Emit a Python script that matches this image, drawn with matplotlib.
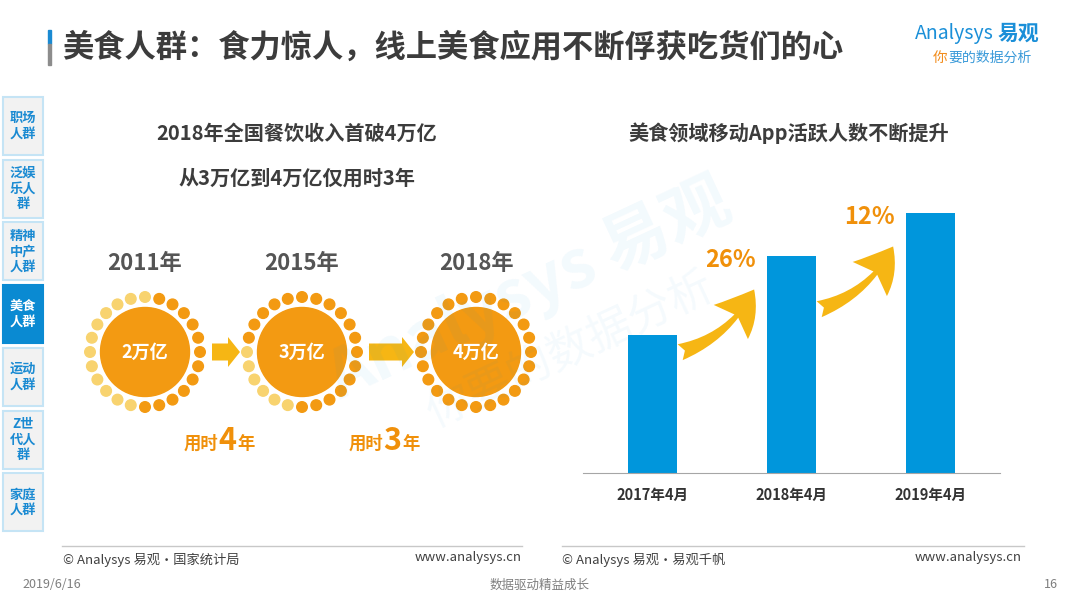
import matplotlib
matplotlib.use("Agg")
import matplotlib.pyplot as plt
import matplotlib.patches as mpatches
import numpy as np

plt.rcParams['font.family'] = ['Noto Sans CJK SC', 'DejaVu Sans']

# left panel: national catering revenue
sun_years = ['2011年', '2015年', '2018年']
sun_values = [2, 3, 4]  # 万亿
sun_labels = ['2万亿', '3万亿', '4万亿']
gap_years = ['4', '3']

# right panel: food app active users (no value axis in the source)
bar_months = ['2017年4月', '2018年4月', '2019年4月']
bar_values = [138, 217, 260]
growth_labels = ['26%', '12%']

side_tabs = ['职场\n人群', '泛娱\n乐人\n群', '精神\n中产\n人群', '美食\n人群',
             '运动\n人群', 'Z世\n代人\n群', '家庭\n人群']
active_tab = 3

BLUE = '#0096DC'
ORANGE = '#F39A12'
LIGHT = '#F8D36F'
YELLOW = '#F6B614'
PCT = '#F0900A'
DARK = '#3c3c3c'

fig = plt.figure(figsize=(10.8, 6.08), dpi=100)
bg = fig.add_axes([0, 0, 1, 1])
bg.set_xlim(0, 1080)
bg.set_ylim(608, 0)
bg.axis('off')

# watermark
bg.text(530, 290, 'Analysys 易观', fontsize=48, rotation=25, color=BLUE, alpha=0.05,
        ha='center', va='center', weight='bold')
bg.text(570, 350, '你要的数据分析', fontsize=32, rotation=25, color=BLUE, alpha=0.045,
        ha='center', va='center')

# page title
bg.add_patch(mpatches.Rectangle((48, 30), 3, 14, color='#1a8ad2'))
bg.add_patch(mpatches.Rectangle((48, 44), 3, 21, color='#8c8c8c'))
bg.text(62, 48, '美食人群：食力惊人，线上美食应用不断俘获吃货们的心', fontsize=22.5,
        weight='bold', color=DARK, va='center')

# logo
bg.text(915, 33, 'Analysys', fontsize=14, style='italic', color='#1a8fd8', va='center')
bg.text(998, 33, '易观', fontsize=15, weight='bold', color='#1a8fd8', va='center')
bg.text(933, 58, '你', fontsize=10.5, style='italic', color='#f28c1c', va='center')
bg.text(948, 58, '要的数据分析', fontsize=10, style='italic', color='#3a9ad9', va='center')

# side navigation
for i, lab in enumerate(side_tabs):
    top = 97 + i * 62.7
    on = i == active_tab
    bg.add_patch(mpatches.Rectangle((3, top), 40, 58, facecolor='#0a8ad2' if on else '#f2f2f2',
                                    edgecolor='#0a8ad2' if on else '#c5e4f5', lw=1.5))
    bg.text(23, top + 29, lab, fontsize=9.5, weight='bold', ha='center', va='center',
            color='white' if on else '#1a8ad2', linespacing=1.15)

# left panel titles
bg.text(297, 133, '2018年全国餐饮收入首破4万亿', fontsize=14.5, weight='bold', color=DARK,
        ha='center', va='center')
bg.text(297, 178, '从3万亿到4万亿仅用时3年', fontsize=14.5, weight='bold', color=DARK,
        ha='center', va='center')

# suns: dark dots fill the ring in proportion to the value
sun_x = [145, 302, 476]
cy = 352
n_dots = 24
for i in range(len(sun_values)):
    cx = sun_x[i]
    bg.text(cx, 263, sun_years[i], fontsize=16, weight='bold', color='#555555',
            ha='center', va='center')
    bg.add_patch(mpatches.Circle((cx, cy), 44.5, color=ORANGE))
    n_dark = round(n_dots * sun_values[i] / max(sun_values))
    for k in range(n_dots):
        t = k * 2 * np.pi / n_dots
        bg.add_patch(mpatches.Circle((cx + 55 * np.sin(t), cy + 55 * np.cos(t)), 5.3,
                                     color=ORANGE if k < n_dark else LIGHT))
    bg.text(cx, cy, sun_labels[i], fontsize=13, weight='bold', color='white',
            ha='center', va='center')

# block arrows and durations
for i, g in enumerate(gap_years):
    x0 = sun_x[i] + 67
    x1 = sun_x[i + 1] - 62
    bg.add_patch(mpatches.FancyArrow(x0, cy, x1 - x0, 0, width=17, head_width=30,
                                     head_length=12, length_includes_head=True,
                                     color=YELLOW, lw=0))
    mx = (x0 + x1) / 2 + 1
    bg.text(mx - 9, 444, '用时', fontsize=12.5, weight='bold', color=PCT, ha='right', va='center')
    bg.text(mx, 441, g, fontsize=22, weight='bold', color=PCT, ha='center', va='center')
    bg.text(mx + 10, 444, '年', fontsize=12.5, weight='bold', color=PCT, ha='left', va='center')

# right panel
bg.text(789, 133, '美食领域移动App活跃人数不断提升', fontsize=14.5, weight='bold', color=DARK,
        ha='center', va='center')

ax = fig.add_axes([583 / 1080, (608 - 473) / 608, 417 / 1080, 273 / 608])
ax.patch.set_alpha(0)
x = np.arange(len(bar_values))
ax.bar(x, bar_values, width=0.355, color=BLUE)
ax.set_xlim(-0.5, 2.5)
ax.set_ylim(0, 273)
ax.set_yticks([])
ax.set_xticks(x)
ax.set_xticklabels(bar_months, fontsize=10.5, weight='bold', color='#333333')
ax.tick_params(axis='x', length=0, pad=10)
for s in ['top', 'right', 'left']:
    ax.spines[s].set_visible(False)
ax.spines['bottom'].set_color('#a6a6a6')

for i, lab in enumerate(growth_labels):
    nxt = bar_values[i + 1]
    ax.annotate('', xy=(i + 0.74, nxt - 31), xytext=(i + 0.18, nxt - 97),
                arrowprops=dict(arrowstyle='fancy,head_length=1.2,head_width=1.45,tail_width=0.5',
                                connectionstyle='arc3,rad=0.22', color=YELLOW, lw=0,
                                mutation_scale=24))
    ax.text(i + 0.56, nxt - 4, lab, fontsize=17, weight='bold', color=PCT,
            ha='center', va='center')

# footer
bg.plot([62, 522], [546, 546], color='#c8c8c8', lw=1)
bg.plot([562, 1024], [546, 546], color='#c8c8c8', lw=1)
bg.text(63, 560, '© Analysys 易观·国家统计局', fontsize=9.5, color='#404040', va='center')
bg.text(522, 558, 'www.analysys.cn', fontsize=9.5, color='#404040', va='center', ha='right')
bg.text(562, 560, '© Analysys 易观·易观千帆', fontsize=9.5, color='#404040', va='center')
bg.text(1022, 558, 'www.analysys.cn', fontsize=9.5, color='#404040', va='center', ha='right')
bg.text(22, 585, '2019/6/16', fontsize=9, color='#7f7f7f', va='center')
bg.text(540, 585, '数据驱动精益成长', fontsize=9, color='#7f7f7f', va='center', ha='center')
bg.text(1058, 585, '16', fontsize=9, color='#7f7f7f', va='center', ha='right')

fig.savefig('out.png', dpi=100)
